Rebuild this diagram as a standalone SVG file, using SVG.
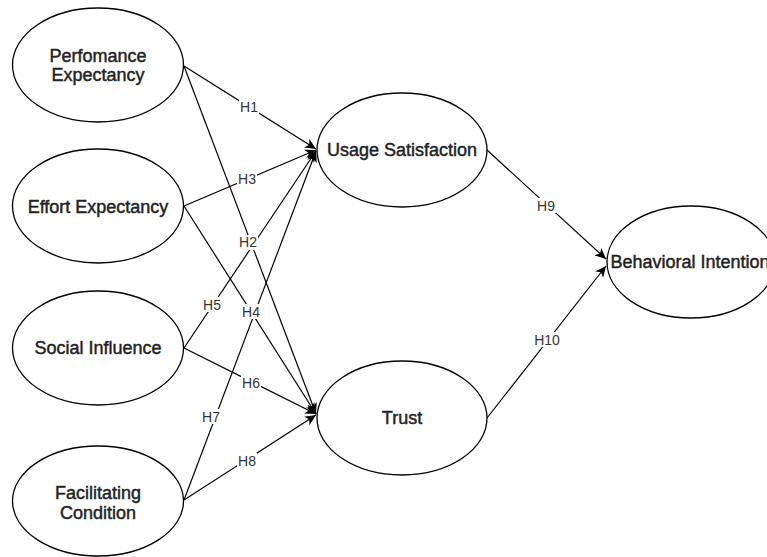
<svg xmlns="http://www.w3.org/2000/svg" width="767" height="557" viewBox="0 0 767 557">
<style>
.node ellipse{fill:#fff;stroke:#000;stroke-width:1.3}
.node text{font-family:"Liberation Sans",Arial,sans-serif;font-size:18px;fill:#222;stroke:#222;stroke-width:0.45;text-anchor:middle}
.edge{fill:none;stroke:#000;stroke-width:1.2;marker-end:url(#arr)}
.lbl{font-family:"Liberation Sans",Arial,sans-serif;font-size:14px;fill:#333;text-anchor:middle}
.lblbg{fill:#fff}
</style>
<defs>
<marker id="arr" markerUnits="userSpaceOnUse" markerWidth="12" markerHeight="10" viewBox="0 0 12 10" refX="11" refY="5" orient="auto">
<path d="M0,0 L11,5 L0,10 L3,5 z" fill="#000"/>
</marker>
</defs>
<rect width="767" height="557" fill="#fff"/>
<g id="connectors">
<line class="edge" x1="184" y1="66" x2="316" y2="149"/>
<line class="edge" x1="184" y1="66" x2="316" y2="414"/>
<line class="edge" x1="184" y1="206" x2="316" y2="150"/>
<line class="edge" x1="184" y1="206" x2="316" y2="414"/>
<line class="edge" x1="184" y1="348" x2="316" y2="151"/>
<line class="edge" x1="184" y1="348" x2="316" y2="414"/>
<line class="edge" x1="184" y1="500" x2="316" y2="151"/>
<line class="edge" x1="184" y1="500" x2="316" y2="415"/>
<line class="edge" x1="487" y1="150" x2="606" y2="259"/>
<line class="edge" x1="487" y1="418" x2="606" y2="266"/>
<g id="labels">
<rect class="lblbg" x="239" y="99" width="20" height="15"/><text class="lbl" x="249" y="112">H1</text>
<rect class="lblbg" x="238" y="235" width="20" height="15"/><text class="lbl" x="248" y="247">H2</text>
<rect class="lblbg" x="237" y="171" width="20" height="15"/><text class="lbl" x="247" y="184">H3</text>
<rect class="lblbg" x="241" y="304" width="20" height="15"/><text class="lbl" x="251" y="317">H4</text>
<rect class="lblbg" x="202" y="297" width="20" height="15"/><text class="lbl" x="212" y="310">H5</text>
<rect class="lblbg" x="241" y="375" width="20" height="15"/><text class="lbl" x="251" y="388">H6</text>
<rect class="lblbg" x="201" y="409" width="20" height="15"/><text class="lbl" x="211" y="422">H7</text>
<rect class="lblbg" x="237" y="453" width="20" height="15"/><text class="lbl" x="247" y="466">H8</text>
<rect class="lblbg" x="536" y="198" width="20" height="15"/><text class="lbl" x="546" y="211">H9</text>
<rect class="lblbg" x="533" y="332" width="28" height="15"/><text class="lbl" x="547" y="345">H10</text>
</g>
</g>
<g id="perf" class="node"><ellipse cx="98" cy="65" rx="85.5" ry="57"/><text x="98" y="61.5">Perfomance</text><text x="98" y="80.5">Expectancy</text></g>
<g id="effort" class="node"><ellipse cx="98" cy="206" rx="85.5" ry="57"/><text x="98" y="212.5">Effort Expectancy</text></g>
<g id="social" class="node"><ellipse cx="98" cy="348" rx="85.5" ry="57"/><text x="98" y="354">Social Influence</text></g>
<g id="facil" class="node"><ellipse cx="98" cy="501" rx="85.5" ry="55"/><text x="98" y="499">Facilitating</text><text x="98" y="519">Condition</text></g>
<g id="usage" class="node"><ellipse cx="402" cy="150" rx="85" ry="57"/><text x="402" y="156">Usage Satisfaction</text></g>
<g id="trust" class="node"><ellipse cx="402" cy="418" rx="85" ry="57"/><text x="402" y="424">Trust</text></g>
<g id="behav" class="node"><ellipse cx="691" cy="262" rx="84" ry="56"/><text x="690" y="268">Behavioral Intention</text></g>
</svg>
